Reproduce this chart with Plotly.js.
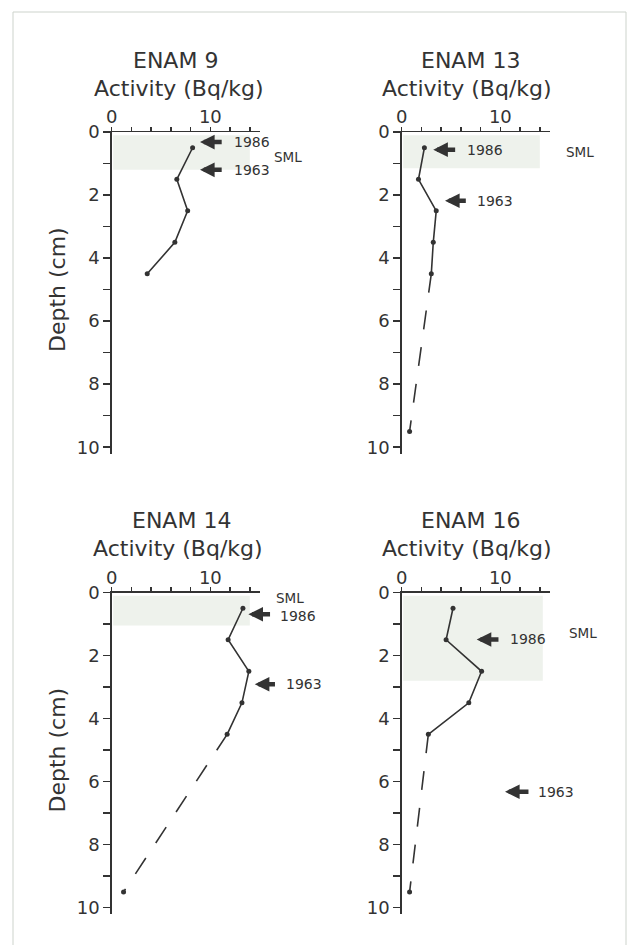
<!DOCTYPE html>
<html>
<head>
<meta charset="utf-8">
<script src="https://cdn.plot.ly/plotly-3.0.1.min.js"></script>
<style>html,body{margin:0;padding:0;background:#fff;}#chart{width:633px;height:945px;}</style>
</head>
<body>
<div id="chart"></div>
<script>
// ---- data ----
const panelNames = ["ENAM 9", "ENAM 13", "ENAM 14", "ENAM 16"];
const depths = [0.5, 1.5, 2.5, 3.5, 4.5];
const enam9 = [8.2, 6.6, 7.7, 6.4, 3.6];
const enam13 = [2.3, 1.7, 3.5, 3.2, 3.0];
const enam14 = [13.3, 11.8, 13.9, 13.2, 11.7];
const enam16 = [5.2, 4.5, 8.1, 6.8, 2.7];
const deepDepth = 9.5;
const deepValues = [null, 0.8, 1.2, 0.8];   // dashed extrapolation to deepest sample
const smlTop = [0.1, 0.1, 0.1, 0.1];
const smlBottom = [1.2, 1.15, 1.05, 2.8];
const smlRight = [14.0, 14.0, 14.0, 14.3];
const smlLabelX = [16.2, 16.4, 16.4, 16.8];
const smlLabelDepth = [0.79, 0.63, 0.19, 1.3];
const arrow1986Depth = [0.32, 0.56, 0.69, 1.49];
const arrow1986Tip = [8.95, 3.2, 13.85, 7.6];
const arrow1986Tail = [11.3, 5.57, 16.2, 9.96];
const label1986X = [12.2, 6.4, 16.9, 10.8];
const label1986Depth = [0.32, 0.56, 0.74, 1.49];
const arrow1963Depth = [1.2, 2.18, 2.91, 6.32];
const arrow1963Tip = [8.95, 4.39, 14.5, 10.47];
const arrow1963Tail = [11.3, 6.65, 16.7, 13.0];
const label1963X = [12.2, 7.43, 17.5, 13.6];
const xTickVals = [0, 2, 4, 6, 8, 10, 12, 14];
const xTickText = ["0", "", "", "", "", "10", "", ""];
const yTickVals = [0, 1, 2, 3, 4, 5, 6, 7, 8, 9, 10];
const yTickText = ["0", "", "2", "", "4", "", "6", "", "8", "", "10"];
const series = [enam9, enam13, enam14, enam16];

// ---- layout geometry (pixels) ----
const W = 633, H = 945;
const FONT = "DejaVu Sans";
const INK = "#333333";
const pxPerUnit = 148 / 15;
const xRange = [0, 15];
const yRange = [10.2, 0];
const overlayRange = [0, 23];
const leftPx = [111.7, 401.7, 111.7, 401.7];
const topPx = [132, 132, 592.5, 592.5];
const heightPx = 321.5;
const titleLeft = [130.7, 419, 129.5, 419];
const actLeft = [91.7, 380, 90.5, 380];

const traces = [];
const annotations = [];
const shapes = [];
const layout = {
  width: W, height: H,
  margin: {l: 0, r: 0, t: 0, b: 0},
  paper_bgcolor: "#ffffff",
  plot_bgcolor: "rgba(0,0,0,0)",
  showlegend: false,
  font: {family: FONT, color: INK}
};

for (let i = 0; i < 4; i++) {
  const n = i + 1;
  const xa = "x" + (n === 1 ? "" : n), ya = "y" + (n === 1 ? "" : n);
  const ov = "x" + (n + 4);
  const x0 = leftPx[i] / W, x1 = (leftPx[i] + 148) / W;
  const yTop = 1 - topPx[i] / H, yBot = 1 - (topPx[i] + heightPx) / H;
  layout["xaxis" + (n === 1 ? "" : n)] = {
    domain: [x0, x1], range: xRange, side: "top", anchor: ya,
    showline: true, linecolor: INK, linewidth: 1.5, mirror: false,
    ticks: "outside", ticklen: 4, tickwidth: 1.5, tickcolor: INK,
    tickvals: xTickVals, ticktext: xTickText, ticklabelstandoff: -4,
    tickfont: {family: FONT, size: 18, color: INK},
    showgrid: false, zeroline: false, fixedrange: true
  };
  layout["yaxis" + (n === 1 ? "" : n)] = {
    domain: [yBot, yTop], range: yRange, anchor: xa,
    showline: true, linecolor: INK, linewidth: 1.5,
    ticks: "outside", ticklen: 7, tickwidth: 1.5, tickcolor: INK,
    tickvals: yTickVals, ticktext: yTickText,
    tickfont: {family: FONT, size: 18, color: INK},
    showgrid: false, zeroline: false, fixedrange: true
  };
  layout["xaxis" + (n + 4)] = {
    domain: [x0, (leftPx[i] + pxPerUnit * overlayRange[1]) / W],
    range: overlayRange, anchor: ya, visible: false, fixedrange: true
  };

  traces.push({
    type: "scatter", mode: "lines+markers", xaxis: xa, yaxis: ya,
    x: series[i], y: depths,
    line: {color: INK, width: 1.6},
    marker: {color: INK, size: 5},
    hoverinfo: "skip"
  });
  if (deepValues[i] !== null) {
    traces.push({
      type: "scatter", mode: "lines", xaxis: xa, yaxis: ya,
      x: [series[i][series[i].length - 1], deepValues[i]],
      y: [depths[depths.length - 1], deepDepth],
      line: {color: INK, width: 1.6, dash: "19px,18px"},
      hoverinfo: "skip"
    });
    traces.push({
      type: "scatter", mode: "markers", xaxis: xa, yaxis: ya,
      x: [deepValues[i]], y: [deepDepth],
      marker: {color: INK, size: 5}, hoverinfo: "skip"
    });
  }

  shapes.push({
    type: "rect", xref: xa, yref: ya, layer: "below",
    x0: 0.15, x1: smlRight[i], y0: smlTop[i], y1: smlBottom[i],
    fillcolor: "#eef2ec", line: {width: 0}
  });

  // titles
  annotations.push({
    xref: "paper", yref: "paper", x: titleLeft[i] / W, y: 1 - (topPx[i] - 72) / H,
    xanchor: "left", yanchor: "middle", showarrow: false,
    text: panelNames[i], font: {family: FONT, size: 22, color: INK}
  });
  annotations.push({
    xref: "paper", yref: "paper", x: actLeft[i] / W, y: 1 - (topPx[i] - 44) / H,
    xanchor: "left", yanchor: "middle", showarrow: false,
    text: "Activity (Bq/kg)", font: {family: FONT, size: 22, color: INK}
  });
  if (i % 2 === 0) {
    annotations.push({
      xref: "paper", yref: "paper", x: 57 / W, y: 1 - (topPx[i] + 158) / H,
      xanchor: "center", yanchor: "middle", showarrow: false, textangle: -90,
      text: "Depth (cm)", font: {family: FONT, size: 22, color: INK}
    });
  }

  // SML label
  annotations.push({
    xref: ov, yref: ya, x: smlLabelX[i], y: smlLabelDepth[i],
    xanchor: "left", yanchor: "middle", showarrow: false,
    text: "SML", font: {family: FONT, size: 13.5, color: INK}
  });
  // date arrows
  const arrows = [
    [arrow1986Tip[i], arrow1986Tail[i], arrow1986Depth[i], label1986X[i], "1986", label1986Depth[i]],
    [arrow1963Tip[i], arrow1963Tail[i], arrow1963Depth[i], label1963X[i], "1963", arrow1963Depth[i]]
  ];
  arrows.forEach(a => {
    annotations.push({
      xref: ov, yref: ya, x: a[0], y: a[2], axref: ov, ayref: ya, ax: a[1], ay: a[2],
      text: "", showarrow: true, arrowhead: 2, arrowsize: 0.65, arrowwidth: 4.5,
      arrowcolor: INK, standoff: 0, startstandoff: 0
    });
    annotations.push({
      xref: ov, yref: ya, x: a[3], y: a[5],
      xanchor: "left", yanchor: "middle", showarrow: false,
      text: a[4], font: {family: FONT, size: 14, color: INK}
    });
  });
}

// outer frame of the figure
shapes.push({
  type: "rect", xref: "paper", yref: "paper",
  x0: 13 / W, x1: 626 / W, y0: -0.02, y1: 1 - 12 / H,
  line: {color: "#cdd3cc", width: 1}, fillcolor: "rgba(0,0,0,0)", layer: "below"
});

layout.shapes = shapes;
layout.annotations = annotations;

Plotly.newPlot("chart", traces, layout, {displayModeBar: false, staticPlot: true});
</script>
</body>
</html>
